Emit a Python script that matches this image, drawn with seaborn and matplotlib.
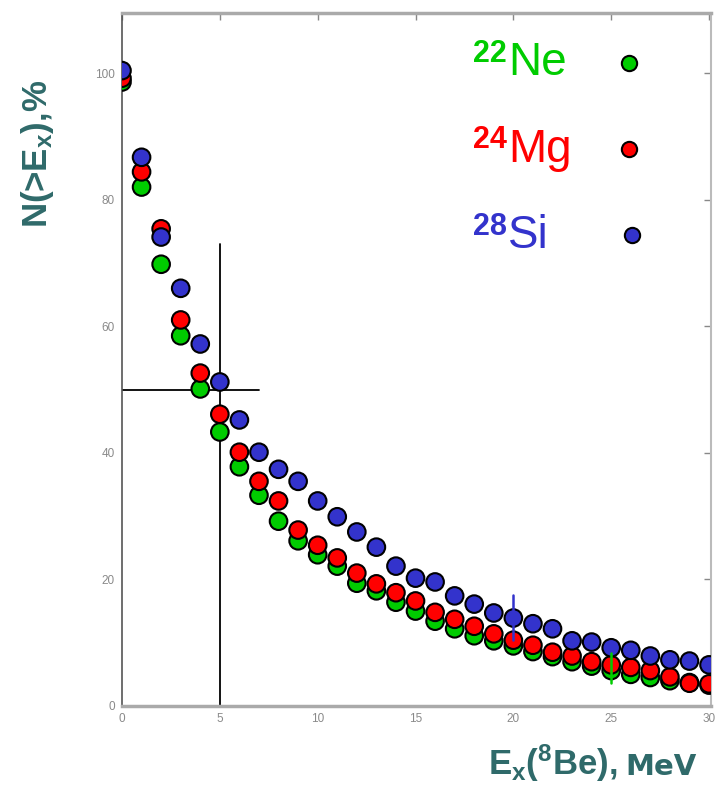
import numpy as np
import pandas as pd
import matplotlib
matplotlib.use("Agg")
import matplotlib.pyplot as plt
import seaborn as sns

energy = list(range(0, 31))
ne22 = [98.6, 82.0, 69.8, 58.5, 50.1, 43.3, 37.8, 33.3, 29.2, 26.1, 23.9, 22.1, 19.4, 18.2, 16.4,
        15.0, 13.4, 12.2, 11.1, 10.3, 9.5, 8.6, 7.8, 7.0, 6.3, 5.6, 5.0, 4.5, 4.0, 3.7, 3.3]
mg24 = [99.2, 84.4, 75.4, 61.0, 52.6, 46.1, 40.1, 35.5, 32.4, 27.8, 25.4, 23.4, 21.0, 19.3, 17.9,
        16.6, 14.8, 13.7, 12.6, 11.4, 10.4, 9.6, 8.5, 7.9, 7.0, 6.5, 6.1, 5.6, 4.6, 3.6, 3.5]
si28 = [100.4, 86.7, 74.1, 66.0, 57.2, 51.2, 45.2, 40.1, 37.4, 35.5, 32.4, 29.9, 27.5, 25.1, 22.1,
        20.2, 19.6, 17.4, 16.1, 14.7, 13.9, 13.0, 12.2, 10.3, 10.1, 9.2, 8.8, 7.9, 7.3, 7.1, 6.5]
series_names = ["22Ne", "24Mg", "28Si"]
mass_numbers = ["22", "24", "28"]
symbols = ["Ne", "Mg", "Si"]
colors = ["#00cc00", "#ff0000", "#3333cc"]

x_ticks = [0, 5, 10, 15, 20, 25, 30]
y_ticks = [0, 20, 40, 60, 80, 100]

# error bars: (x, low, high)
err_si = (20, 10.4, 17.5)
err_ne = (25, 3.6, 8.4)
# guide lines
cross_x = 5
cross_x_top = 73
cross_y = 50
cross_y_right = 7

df = pd.DataFrame({
    "E": energy * 3,
    "N": ne22 + mg24 + si28,
    "nucleus": [series_names[0]] * 31 + [series_names[1]] * 31 + [series_names[2]] * 31,
})

sns.set_style("white")
plt.rcParams['font.family'] = ['Liberation Sans', 'DejaVu Sans']
plt.rcParams['mathtext.fontset'] = 'custom'
plt.rcParams['mathtext.rm'] = 'Liberation Sans'
plt.rcParams['mathtext.bf'] = 'Liberation Sans:bold'
plt.rcParams['mathtext.it'] = 'Liberation Sans:italic'

fig = plt.figure(figsize=(7.19, 7.92), dpi=100)
ax = fig.add_axes([122 / 719, 1 - 706 / 792, 589 / 719, 693 / 792])

sns.scatterplot(data=df, x="E", y="N", hue="nucleus", palette=dict(zip(series_names, colors)),
                s=160, edgecolor="black", linewidth=1.5, legend=False, ax=ax, zorder=3)

ax.plot([cross_x, cross_x], [0, cross_x_top], color="black", lw=1.3, zorder=2)
ax.plot([0, cross_y_right], [cross_y, cross_y], color="black", lw=1.3, zorder=2)
ax.plot([err_si[0], err_si[0]], [err_si[1], err_si[2]], color=colors[2], lw=1.8, zorder=4)
ax.plot([err_ne[0], err_ne[0]], [err_ne[1], err_ne[2]], color=colors[0], lw=1.8, zorder=4)

ax.set_xlim(0, 30.1)
ax.set_ylim(0, 109.5)
ax.set_xticks(x_ticks)
ax.set_yticks(y_ticks)
ax.set_xlabel("")
ax.set_ylabel("")
ax.tick_params(axis="both", direction="in", length=5, width=1, color="#888888",
               labelsize=8.5, labelcolor="#8a8a8a", top=True, right=True, pad=5)
for s in ["top", "bottom"]:
    ax.spines[s].set_color("#aaaaaa")
    ax.spines[s].set_linewidth(2.5)
ax.spines["left"].set_color("#555555")
ax.spines["left"].set_linewidth(1.2)
ax.spines["right"].set_color("#bbbbbb")
ax.spines["right"].set_linewidth(1.5)

# legend-like labels
sym_base = [75, 162, 248]
sup_base = [62, 148, 235]
leg_y = [63, 149, 235]
leg_mx = [629, 629, 632]
for num, sym, c, sb, pb, yy, mx in zip(mass_numbers, symbols, colors, sym_base, sup_base,
                                       leg_y, leg_mx):
    fig.text(473 / 719, 1 - pb / 792, num, color=c, fontsize=22, fontweight="bold",
             ha="left", va="baseline")
    fig.text(508 / 719, 1 - sb / 792, sym, color=c, fontsize=33, ha="left", va="baseline")
    fig.add_artist(plt.Line2D([mx / 719], [1 - yy / 792], marker="o", markersize=11,
                              markerfacecolor=c, markeredgecolor="black", markeredgewidth=1.5,
                              linestyle="none", transform=fig.transFigure))

teal = "#2f6a6a"
fig.text(38 / 719, 1 - 154 / 792, r"N(>E$_\mathbf{x}$),%", rotation=90, color=teal,
         fontsize=25, fontweight="bold", ha="center", va="center")
fig.text(488 / 719, 1 - 775 / 792, r"E$_\mathbf{x}$($\mathbf{^8}$Be),", color=teal,
         fontsize=25, fontweight="bold", ha="left", va="baseline")
fig.text(625 / 719, 1 - 775 / 792, "MeV", color=teal, family="DejaVu Sans",
         fontsize=21, fontweight="bold", ha="left", va="baseline")

fig.savefig("out.png", dpi=100)
